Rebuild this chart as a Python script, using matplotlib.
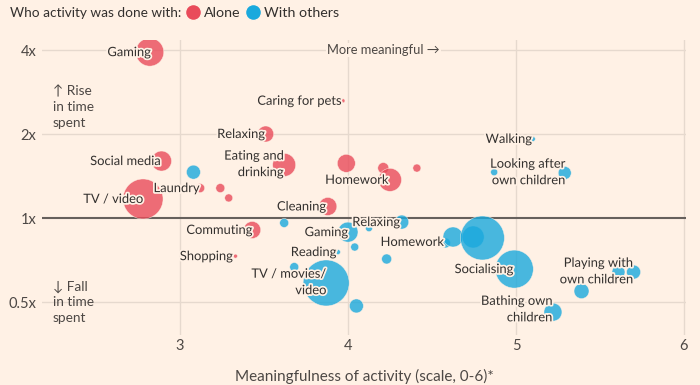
import matplotlib.pyplot as plt
import matplotlib.patheffects as pe
from matplotlib.lines import Line2D

# data
alone_x = [2.82, 3.97, 3.51, 2.89, 3.62, 3.12, 3.24, 3.29, 2.78, 3.88, 3.99, 4.21, 4.25, 4.41, 3.43, 3.33]
alone_y = [3.93, 2.63, 2.00, 1.60, 1.55, 1.28, 1.28, 1.18, 1.17, 1.10, 1.57, 1.51, 1.37, 1.51, 0.906, 0.73]
alone_r = [14, 2, 8, 10, 11.5, 4.5, 4.5, 4, 20, 9, 9, 5.5, 11.5, 4, 8.5, 2]

others_x = [3.08, 3.62, 4.00, 4.04, 4.125, 4.32, 3.94, 3.68, 3.87, 4.05, 4.23, 4.58,
            4.625, 4.745, 4.80, 4.99, 5.39, 5.22, 5.70, 5.61, 5.10, 4.87, 5.29]
others_y = [1.46, 0.96, 0.89, 0.787, 0.92, 0.967, 0.755, 0.667, 0.585, 0.484, 0.713, 0.814,
            0.855, 0.855, 0.848, 0.656, 0.547, 0.46, 0.64, 0.64, 1.92, 1.46, 1.45]
others_r = [7, 4.5, 10, 4, 3.5, 7, 2.5, 4.5, 23, 7, 5, 5,
            10, 11, 22, 19, 7.5, 9, 7, 6.5, 2.5, 3.5, 6.5]

# labels: (text, index of bubble, dx px, dy px)
alone_labels = [
    ("Gaming", 0, 1, 0),
    ("Caring for pets", 1, -2, 0),
    ("Relaxing", 2, -1, 0),
    ("Social media", 3, -1, 0),
    ("Eating and\ndrinking", 4, -1, 1),
    ("Laundry", 5, -1, 0),
    ("TV / video", 8, 0, 0),
    ("Cleaning", 9, -2, 0),
    ("Homework", 12, -2, 0),
    ("Commuting", 14, 0, 0),
    ("Shopping", 15, -3, 0),
]
others_labels = [
    ("Gaming", 2, 0, 0),
    ("Relaxing", 5, -2, 0),
    ("Homework", 11, -2, 1),
    ("Reading", 6, -2, 0),
    ("TV / movies/\nvideo", 8, 0, 1),
    ("Socialising", 15, -1, 0),
    ("Bathing own\nchildren", 17, -1, 3),
    ("Playing with\nown children", 18, -1, 1),
    ("Walking", 20, -1, 0),
    ("Looking after\nown children", 22, 0, 1),
]

bg = '#fff1e5'
red = '#e94b5a'
blue = '#1aa9dd'
txt = '#33302e'
grey = '#4d4845'

plt.rcParams['font.family'] = ['Lato', 'DejaVu Sans']

fig = plt.figure(figsize=(7, 3.85), dpi=100, facecolor=bg)
ax = fig.add_axes([42 / 700, 50 / 385, 644 / 700, 295 / 385])
ax.set_facecolor(bg)

ax.set_yscale('log', base=2)
ax.set_xlim(3 - 138 / 168, 3 + 506 / 168)
ax.set_ylim(2 ** (-117 / 84), 2 ** (178 / 84))

for v in [3, 4, 5, 6]:
    ax.axvline(v, color='#e6d9ce', lw=1, zorder=0)
for v in [0.5, 2, 4]:
    ax.axhline(v, color='#e6d9ce', lw=1, zorder=0)
ax.axhline(1, color='#66605c', lw=1.5, zorder=1)

def area(rs):
    return [(2 * r * 0.72) ** 2 for r in rs]

ax.scatter(alone_x, alone_y, s=area(alone_r), color=red, alpha=0.8,
           edgecolor=bg, linewidth=0.4, zorder=2)
ax.scatter(others_x, others_y, s=area(others_r), color=blue, alpha=0.8,
           edgecolor=bg, linewidth=0.4, zorder=2)

halo = [pe.withStroke(linewidth=2.5, foreground=bg)]
for labels, xs, ys in [(alone_labels, alone_x, alone_y), (others_labels, others_x, others_y)]:
    for t, i, dx, dy in labels:
        ax.annotate(t, (xs[i], ys[i]), xytext=(dx * 0.72, dy * 0.72),
                    textcoords='offset points', ha='right', va='center',
                    multialignment='right', fontsize=9.3, color=txt,
                    linespacing=1.45, path_effects=halo, zorder=4)

ax.text(3.875, 4, "More meaningful \u2192", fontsize=9.3, color=grey, va='center', ha='left',
        bbox=dict(facecolor=bg, edgecolor='none', pad=1), zorder=3)
ax.text(2.244, 2 ** (111 / 84), "\u2191 Rise\nin time\nspent", fontsize=9.8, color=grey,
        va='center', ha='left', linespacing=1.35, zorder=3)
ax.text(2.244, 0.5, "\u2193 Fall\nin time\nspent", fontsize=9.8, color=grey,
        va='center', ha='left', linespacing=1.35, zorder=3)

ax.set_xticks([3, 4, 5, 6])
ax.set_xticklabels(['3', '4', '5', '6'])
ax.set_yticks([0.5, 1, 2, 4])
ax.set_yticklabels(['0.5x', '1x', '2x', '4x'])
ax.minorticks_off()
ax.tick_params(length=0, labelsize=10.5, colors=grey, pad=4)
ax.tick_params(axis='x', pad=3)
for s in ax.spines.values():
    s.set_visible(False)
ax.set_xlabel("Meaningfulness of activity (scale, 0-6)*", fontsize=11, color=grey, labelpad=11)

# legend
fig.text(10 / 700, 1 - 13 / 385, "Who activity was done with:", fontsize=9.8, color=txt,
         va='center', ha='left')
handles = [Line2D([], [], marker='o', ls='', markersize=11.5, markerfacecolor=red,
                  markeredgecolor=bg, label='Alone'),
           Line2D([], [], marker='o', ls='', markersize=11.5, markerfacecolor=blue,
                  markeredgecolor=bg, label='With others')]
fig.legend(handles=handles, loc='center left', bbox_to_anchor=(187 / 700, 1 - 13 / 385),
           ncol=2, frameon=False, fontsize=10.3, handlelength=0.9, handletextpad=0.3,
           columnspacing=0.4, borderpad=0, borderaxespad=0, labelcolor=txt)

plt.savefig("out.png", dpi=100, facecolor=bg)
